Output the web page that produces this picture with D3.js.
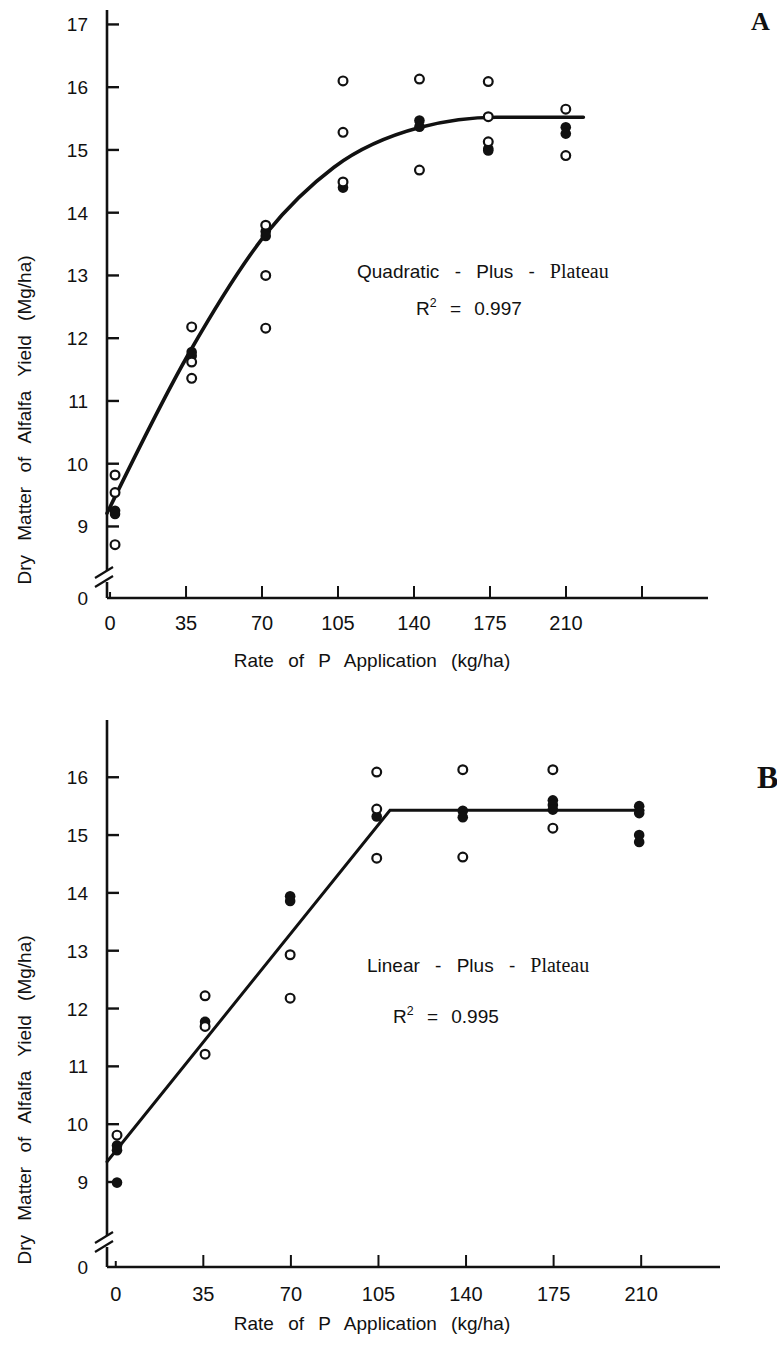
<!DOCTYPE html>
<html>
<head>
<meta charset="utf-8">
<script src="https://cdn.jsdelivr.net/npm/d3@7"></script>
<style>
    body { margin: 0; background: #fff; }
    svg text { font-family: "Liberation Sans", Arial, sans-serif; fill: #111; }
</style>
</head>
<body>
<div id="chart"></div>
<script>
// rates of P (kg/ha) used for the axis ticks
const tickRatesA = [0, 35, 70, 105, 140, 175, 210, 245];
const tickLabelsA = ["0", "35", "70", "105", "140", "175", "210", ""];
const tickRatesB = [0, 35, 70, 105, 140, 175, 210];
const tickLabelsB = ["0", "35", "70", "105", "140", "175", "210"];

// where each group of points sits on the rate axis
const pointRatesA = [2.3, 37.6, 71.7, 107.3, 142.5, 174.2, 209.9];
const pointRatesB = [0.5, 35.7, 69.7, 104.3, 138.7, 174.7, 209.2];

// panel A, yield (Mg/ha) per rate
const openA = [
    [9.82, 9.54, 8.71],
    [12.18, 11.62, 11.36],
    [13.80, 13.0, 12.16],
    [16.10, 15.28, 14.49],
    [16.13, 14.68],
    [16.09, 15.53, 15.13],
    [15.65, 14.91]
];
const filledA = [
    [9.25, 9.20],
    [11.78, 11.72],
    [13.70, 13.63],
    [14.40],
    [15.47, 15.37],
    [15.02, 14.99],
    [15.36, 15.26]
];

// panel B
const openB = [
    [9.81],
    [12.22, 11.69, 11.21],
    [12.93, 12.18],
    [16.09, 15.45, 14.60],
    [16.13, 14.62],
    [16.13, 15.12],
    []
];
const filledB = [
    [9.63, 9.55, 8.99],
    [11.77],
    [13.94, 13.86],
    [15.32],
    [15.42, 15.31],
    [15.60, 15.52, 15.44],
    [15.50, 15.38, 15.00, 14.88]
];

// fitted curves
const fitRatesA = [-1.4, 37, 72, 103, 143, 178, 218];
const fitYieldA = [9.21, 11.8, 13.67, 14.72, 15.36, 15.52, 15.52];
const fitRatesB = [-3.5, 109.6, 210.8];
const fitYieldB = [9.35, 15.43, 15.43];

const yTicksA = [17, 16, 15, 14, 13, 12, 11, 10, 9];
const yTicksB = [16, 15, 14, 13, 12, 11, 10, 9];

const width = 777, height = 1348;

const svg = d3.select("#chart")
    .append("svg")
    .attr("width", width)
    .attr("height", height);

function drawPanel(p) {
    const x = d3.scaleLinear().domain(p.xDomain).range(p.xRange);
    const y = d3.scaleLinear().domain(p.yDomain).range(p.yRange);
    const g = svg.append("g");
    const x0 = p.xRange[0], yBottom = p.yRange[0];

    // y axis line with the break
    const yBreak = yBottom - p.breakGap;
    g.append("line")
        .attr("x1", x0).attr("x2", x0)
        .attr("y1", p.yRange[1]).attr("y2", yBreak - 5)
        .attr("stroke", "#111").attr("stroke-width", 2.6);
    g.append("line")
        .attr("x1", x0).attr("x2", x0)
        .attr("y1", yBreak + 6).attr("y2", yBottom)
        .attr("stroke", "#111").attr("stroke-width", 2.6);
    [-4, 5].forEach(off => {
        g.append("line")
            .attr("x1", x0 - 12).attr("y1", yBreak + off + 6)
            .attr("x2", x0 + 6).attr("y2", yBreak + off - 5)
            .attr("stroke", "#111").attr("stroke-width", 2.2);
    });

    // x axis
    g.append("line")
        .attr("x1", x0).attr("x2", p.xRange[1])
        .attr("y1", yBottom).attr("y2", yBottom)
        .attr("stroke", "#111").attr("stroke-width", 2.6);

    g.selectAll(".xtick")
        .data(p.xTicks)
        .enter()
        .append("line")
        .attr("class", "xtick")
        .attr("x1", d => x(d)).attr("x2", d => x(d))
        .attr("y1", yBottom).attr("y2", (d, i) => yBottom - (i === 0 ? 6 : 12))
        .attr("stroke", "#111").attr("stroke-width", 2);

    g.selectAll(".xlabel")
        .data(p.xTicks)
        .enter()
        .append("text")
        .attr("class", "xlabel")
        .attr("x", d => x(d))
        .attr("y", yBottom + p.xLabelDy)
        .attr("text-anchor", "middle")
        .attr("font-size", p.xFont)
        .text((d, i) => p.xLabels[i]);

    g.selectAll(".ytick")
        .data(p.yTicks)
        .enter()
        .append("line")
        .attr("class", "ytick")
        .attr("x1", x0).attr("x2", x0 + 12)
        .attr("y1", d => y(d)).attr("y2", d => y(d))
        .attr("stroke", "#111").attr("stroke-width", 2.4);

    g.selectAll(".ylabel")
        .data(p.yTicks)
        .enter()
        .append("text")
        .attr("class", "ylabel")
        .attr("x", 88)
        .attr("y", d => y(d) + 7)
        .attr("text-anchor", "end")
        .attr("font-size", p.yFont)
        .text(d => d);

    g.append("text")
        .attr("x", 88).attr("y", yBottom + 7)
        .attr("text-anchor", "end")
        .attr("font-size", p.yFont)
        .text("0");

    // axis titles
    g.append("text")
        .attr("x", p.xTitleX).attr("y", p.xTitleY)
        .attr("text-anchor", "middle")
        .attr("font-size", p.titleFont)
        .style("word-spacing", "9px")
        .text("Rate of P Application (kg/ha)");

    g.append("text")
        .attr("transform", `translate(31,${p.yTitleY}) rotate(-90)`)
        .attr("text-anchor", "middle")
        .attr("font-size", p.titleFont)
        .style("word-spacing", "9px")
        .text("Dry Matter of Alfalfa Yield (Mg/ha)");

    // fitted line
    const fit = p.fitRates.map((r, i) => [r, p.fitYield[i]]);
    g.append("path")
        .datum(fit)
        .attr("fill", "none")
        .attr("stroke", "#111")
        .attr("stroke-width", p.fitWidth)
        .attr("stroke-linecap", "round")
        .attr("d", d3.line()
            .x(d => x(d[0]))
            .y(d => y(d[1]))
            .curve(p.curve));

    // points
    const openPts = [], filledPts = [];
    p.pointRates.forEach((r, i) => {
        p.open[i].forEach(v => openPts.push([r, v]));
        p.filled[i].forEach(v => filledPts.push([r, v]));
    });

    g.selectAll(".filled")
        .data(filledPts)
        .enter()
        .append("circle")
        .attr("class", "filled")
        .attr("cx", d => x(d[0]))
        .attr("cy", d => y(d[1]))
        .attr("r", 5.3)
        .attr("fill", "#111");

    g.selectAll(".open")
        .data(openPts)
        .enter()
        .append("circle")
        .attr("class", "open")
        .attr("cx", d => x(d[0]))
        .attr("cy", d => y(d[1]))
        .attr("r", 4.4)
        .attr("fill", "#fff")
        .attr("stroke", "#111")
        .attr("stroke-width", 2.2);

    // model name and R2
    const note = g.append("text")
        .attr("x", p.noteX).attr("y", p.noteY)
        .attr("font-size", p.noteFont)
        .style("word-spacing", "10px");
    note.append("tspan").text(p.noteText);
    note.append("tspan")
        .style("font-family", "'Liberation Serif', 'Times New Roman', serif")
        .attr("font-size", p.noteFont + 1)
        .text(" Plateau");

    const r2 = g.append("text")
        .attr("x", p.r2X).attr("y", p.r2Y)
        .attr("font-size", p.noteFont);
    r2.append("tspan").text("R");
    r2.append("tspan").attr("dy", -8).attr("font-size", p.noteFont * 0.65).text("2");
    r2.append("tspan").attr("dy", 8).style("word-spacing", "8px").text(" = " + p.r2);

    g.append("text")
        .attr("x", p.letterX).attr("y", p.letterY)
        .attr("font-size", p.letterFont)
        .attr("font-weight", "bold")
        .style("font-family", "'Liberation Serif', 'Times New Roman', serif")
        .text(p.letter);
}

drawPanel({
    xDomain: [-1.4, 275.4], xRange: [107, 708],
    yDomain: [7.86, 17.23], yRange: [598, 10],
    breakGap: 22,
    xTicks: tickRatesA, xLabels: tickLabelsA, xLabelDy: 32, xFont: 20,
    yTicks: yTicksA, yFont: 19,
    titleFont: 19, xTitleX: 372, xTitleY: 667, yTitleY: 420,
    fitRates: fitRatesA, fitYield: fitYieldA, fitWidth: 3.6, curve: d3.curveMonotoneX,
    pointRates: pointRatesA, open: openA, filled: filledA,
    noteText: "Quadratic - Plus -", noteX: 357, noteY: 278, noteFont: 19,
    r2: "0.997", r2X: 416, r2Y: 315,
    letter: "A", letterX: 751, letterY: 30, letterFont: 26
});

drawPanel({
    xDomain: [-3.5, 241.5], xRange: [107, 720],
    yDomain: [7.53, 16.99], yRange: [1267, 720],
    breakGap: 26,
    xTicks: tickRatesB, xLabels: tickLabelsB, xLabelDy: 34, xFont: 20,
    yTicks: yTicksB, yFont: 19,
    titleFont: 19, xTitleX: 372, xTitleY: 1330, yTitleY: 1100,
    fitRates: fitRatesB, fitYield: fitYieldB, fitWidth: 3, curve: d3.curveLinear,
    pointRates: pointRatesB, open: openB, filled: filledB,
    noteText: "Linear - Plus -", noteX: 367, noteY: 972, noteFont: 19,
    r2: "0.995", r2X: 393, r2Y: 1023,
    letter: "B", letterX: 757, letterY: 788, letterFont: 32
});
</script>
</body>
</html>
